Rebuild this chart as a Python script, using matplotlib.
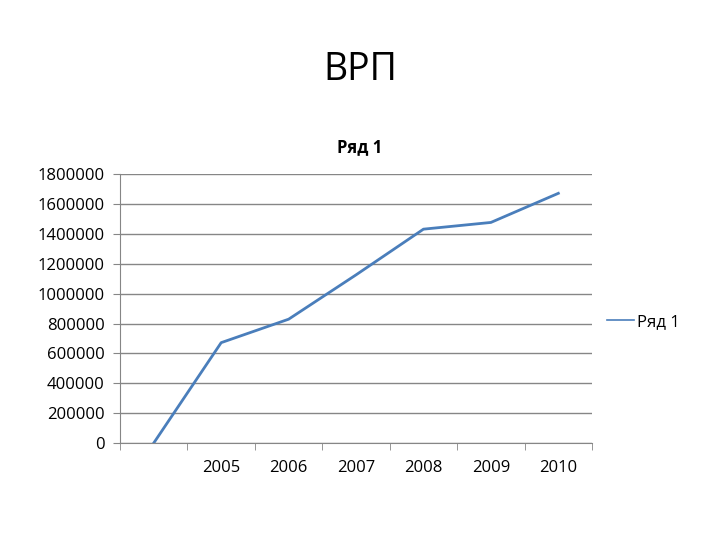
import matplotlib
matplotlib.use("Agg")
import matplotlib.pyplot as plt
import numpy as np

plt.rcParams['font.family'] = ['Open Sans', 'DejaVu Sans']

categories = ['', '2005', '2006', '2007', '2008', '2009', '2010']
values = [0, 672000, 829000, 1126000, 1432000, 1477000, 1672000]
series_name = 'Ряд 1'

fig = plt.figure(figsize=(7.2, 5.4), dpi=100)
ax = fig.add_axes([0.1667, 0.1796, 0.6556, 0.4978])

x = np.arange(len(categories))
ax.plot(x, values, color='#4a7ebb', linewidth=2.0, label=series_name)

ax.set_xlim(-0.5, len(categories) - 0.5)
ax.set_ylim(0, 1800000)
ax.set_yticks(np.arange(0, 1800001, 200000))
ax.set_yticklabels([str(v) for v in range(0, 1800001, 200000)], fontsize=12)
ax.yaxis.grid(True, color='#868686', linewidth=1)
ax.set_axisbelow(True)

# category labels centered, tick marks at category boundaries
ax.set_xticks(x)
ax.set_xticklabels(categories, fontsize=12)
ax.tick_params(axis='x', which='major', length=0, pad=12)
ax.set_xticks(np.arange(-0.5, len(categories)), minor=True)
ax.tick_params(axis='x', which='minor', length=5, color='#868686')
ax.tick_params(axis='y', length=5, color='#868686', pad=6)

for s in ['top', 'right']:
    ax.spines[s].set_visible(False)
ax.spines['left'].set_color('#868686')
ax.spines['bottom'].set_color('#868686')

fig.text(0.5, 0.87, 'ВРП', ha='center', va='center', fontsize=27)
fig.text(0.5, 0.727, series_name, ha='center', va='center', fontsize=12, fontweight='bold')

leg = ax.legend(loc='center left', bbox_to_anchor=(1.0, 0.45), frameon=False,
                fontsize=12, handlelength=1.6, handletextpad=0.2)
leg.get_lines()[0].set_linewidth(1.2)

fig.savefig('out.png', dpi=100)
